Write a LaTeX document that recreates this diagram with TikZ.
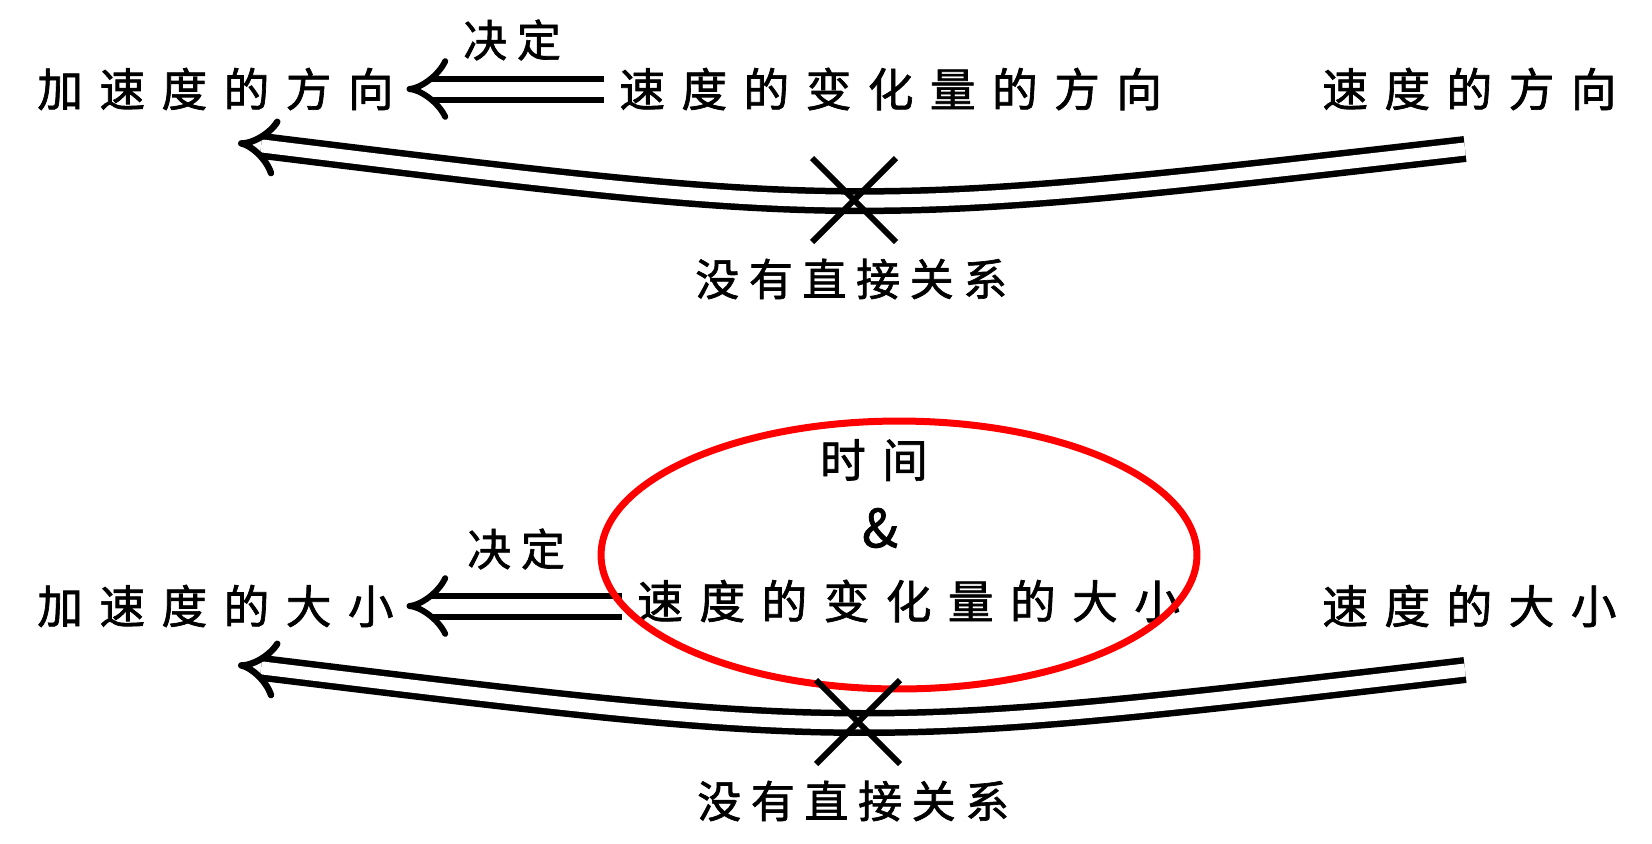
\documentclass[tikz,border=0pt]{standalone}
\usepackage{fontspec}
\usepackage{tikz}
\usetikzlibrary{arrows.meta,shapes.misc,shapes.geometric}
\newfontfamily\cjk[LetterSpace=36,FakeBold=1.5]{Noto Sans CJK SC}
\newfontfamily\cjklabel[LetterSpace=22,FakeBold=1.5]{Noto Sans CJK SC}

\begin{document}
\begin{tikzpicture}[x=0.02cm,y=-0.02cm]
            \tikzstyle{every node}=[inner sep=0pt, anchor=west, font=\cjk\fontsize{26pt}{30pt}\selectfont]
            \tikzstyle{small label}=[font=\cjklabel\fontsize{25pt}{30pt}\selectfont]
            \tikzstyle{dbl}=[double, line width=0.12cm, double distance=0.3cm, -{Implies[scale=1.2]}]
            \tikzstyle{dbl curve}=[double, line width=0.13cm, double distance=0.26cm, -{Implies[scale=1.4]}]
            \tikzstyle{crossmark}=[draw, cross out, line width=0.12cm, minimum width=1.56cm, minimum height=1.56cm, anchor=center]
            \useasboundingbox (0,0) rectangle (1652,843);
            % direction
            \node (acc1) at (37,89) {加速度的方向};
            \node (dv1) at (619,89) {速度的变化量的方向};
            \node (v1) at (1322,89) {速度的方向};
            \node [small label] (jd1) at (463,40) {决定};
            \draw[dbl] ([xshift=-0.3cm]dv1.west) -- ([xshift=0.25cm]acc1.east);
            \coordinate (r1) at (1465,149);
            \coordinate (l1) at (238,143);
            \draw[dbl curve] (r1) .. controls (856,219) .. (l1);
            \node [crossmark] (x1) at (854,200) {};
            \node [small label] (nr1) at (695,279) {没有直接关系};
            % magnitude
            \node (acc2) at (37,606) {加速度的大小};
            \node (dv2) at (637,601) {速度的变化量的大小};
            \node (v2) at (1322,606) {速度的大小};
            \node [small label] (jd2) at (467,549) {决定};
            \draw[dbl] ([xshift=-0.3cm]dv2.west |- acc2.east) -- ([xshift=0.25cm]acc2.east);
            \node [anchor=center] (tm) at (874,460) {时间};
            \node [anchor=center, font=\cjk\fontsize{30pt}{34pt}\selectfont] (amp) at (880,528) {\&};
            \node [ellipse, draw=red, line width=0.14cm, minimum width=11.92cm, minimum height=5.36cm, anchor=center] (ring) at (899,555) {};
            \coordinate (r2) at (1465,670);
            \coordinate (l2) at (238,665);
            \draw[dbl curve] (r2) .. controls (860,741) .. (l2);
            \node [crossmark] (x2) at (858,722) {};
            \node [small label] (nr2) at (697,801) {没有直接关系};
        \end{tikzpicture}
\end{document}
